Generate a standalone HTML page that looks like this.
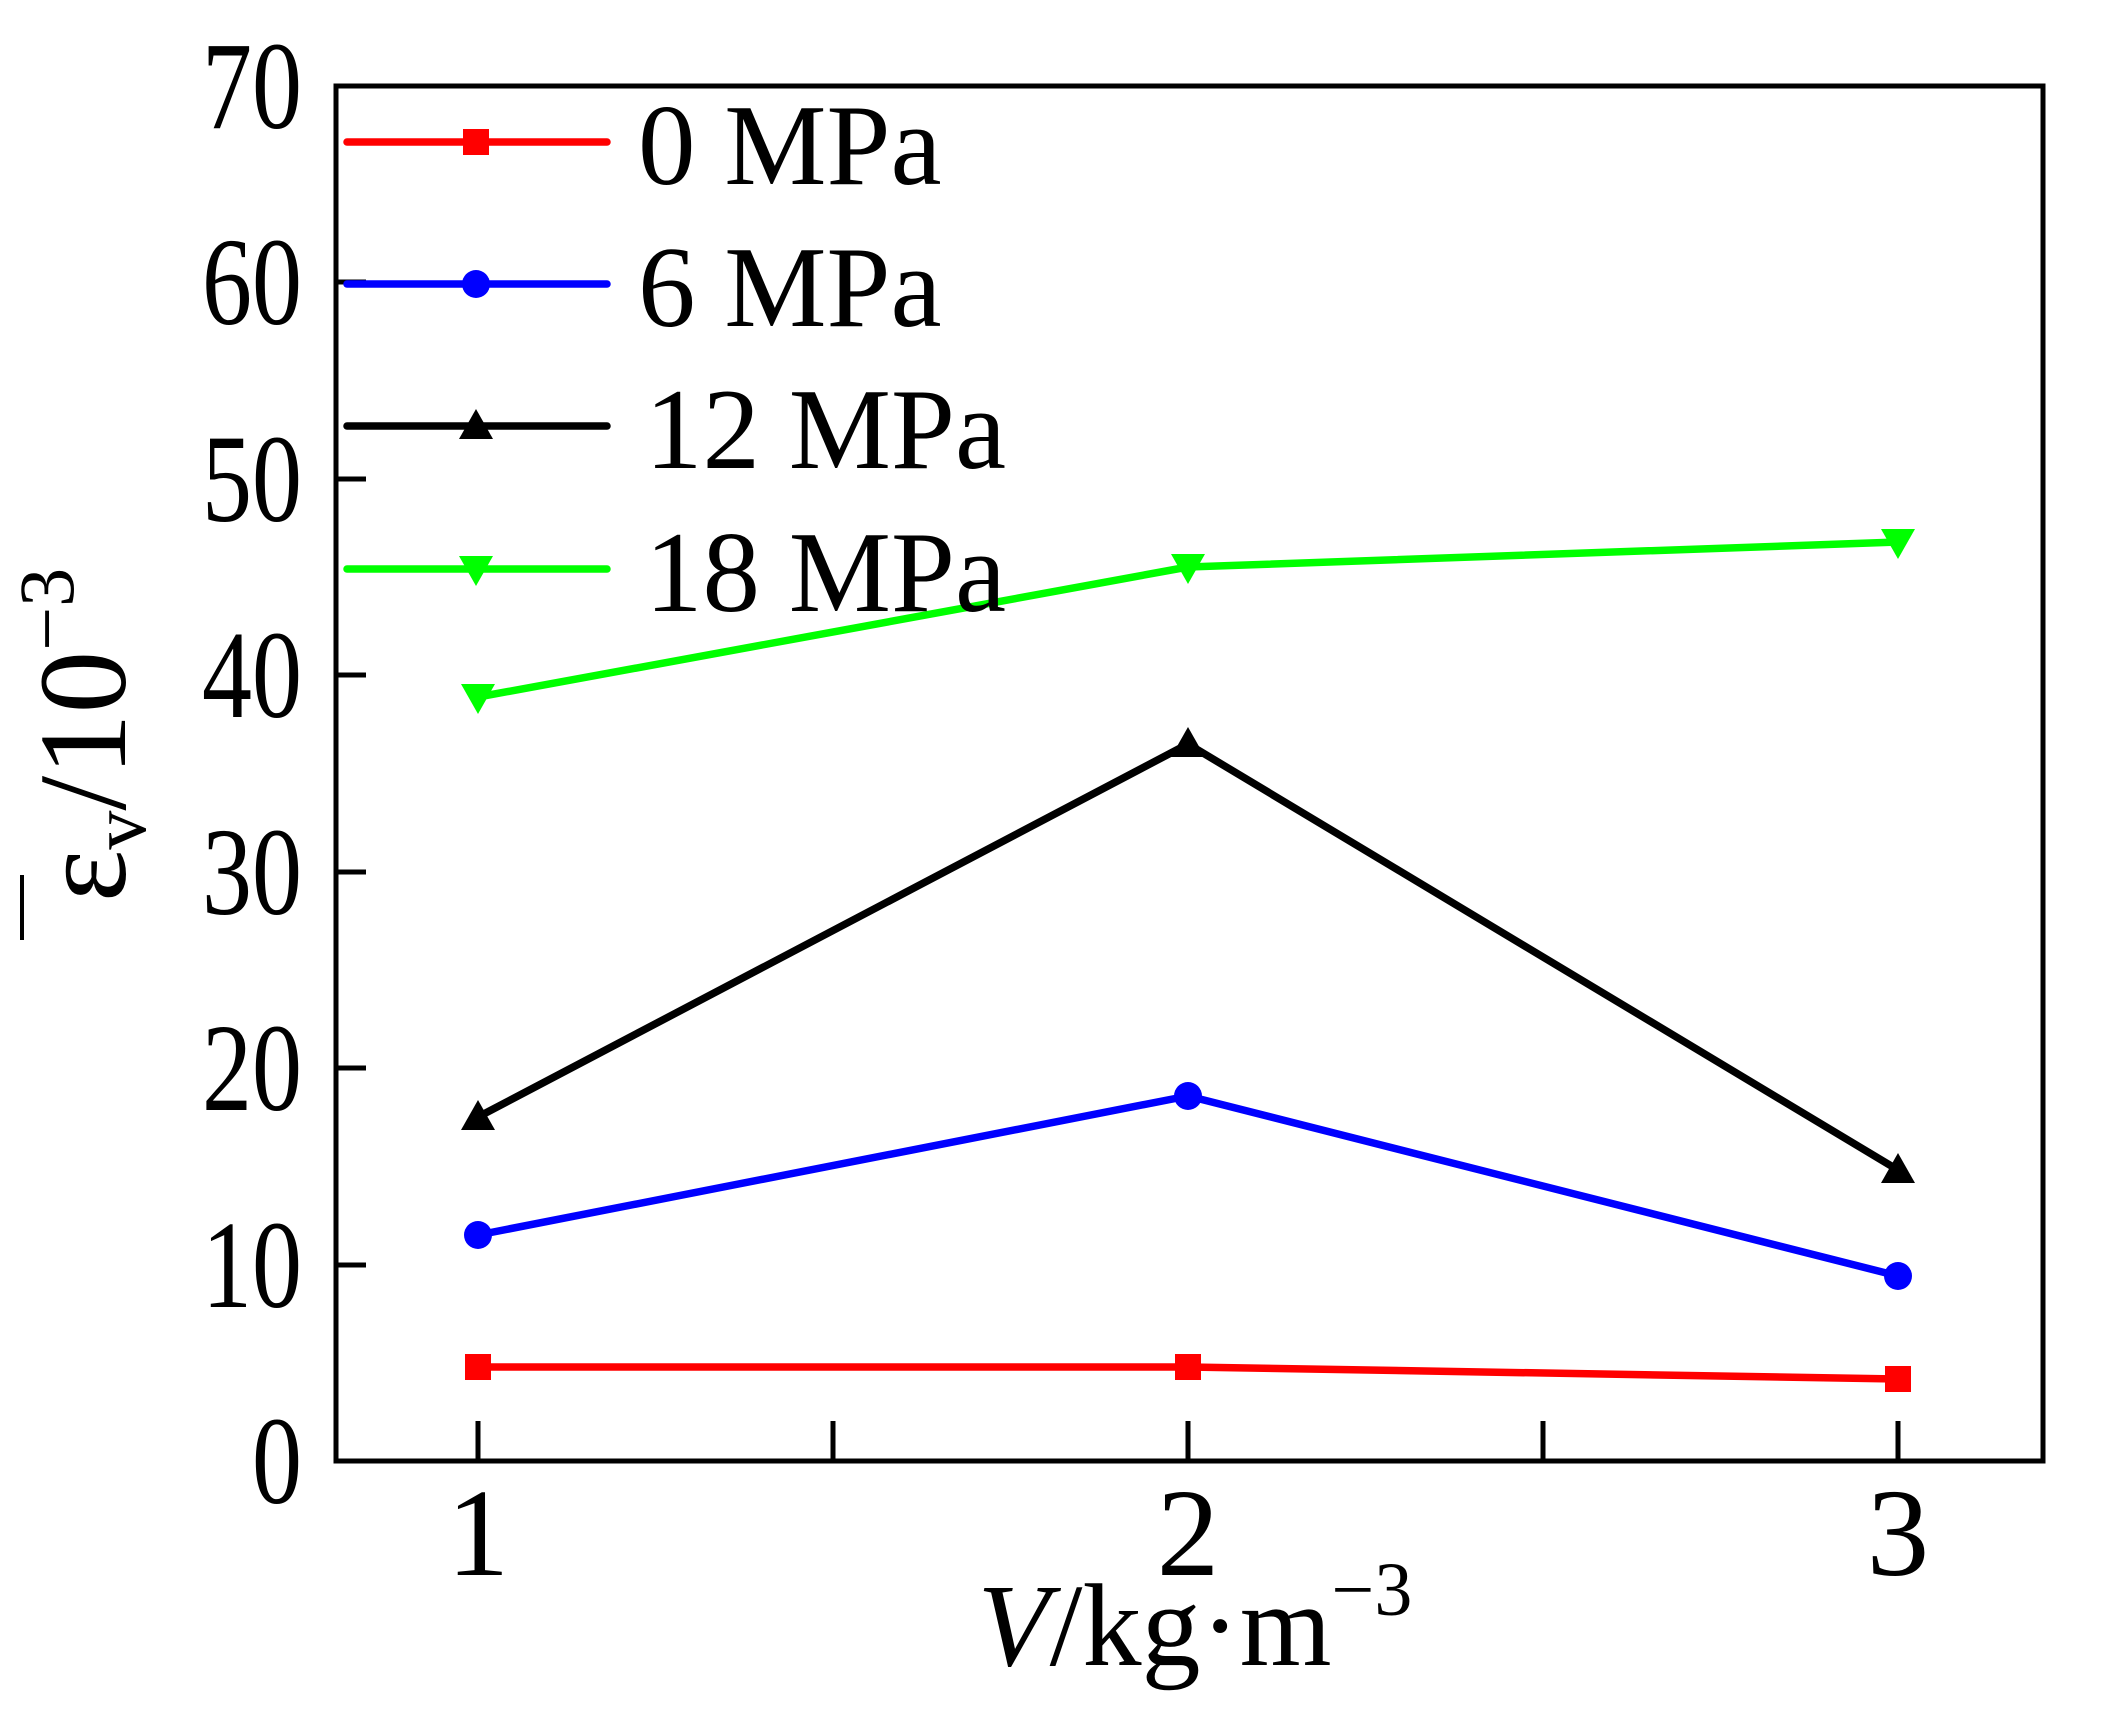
<!DOCTYPE html>
<html><head><style>body{margin:0;background:#fff}</style></head><body>
<svg width="2106" height="1720" viewBox="0 0 2106 1720" xmlns="http://www.w3.org/2000/svg" font-family="Liberation Serif, serif">
<rect width="2106" height="1720" fill="#fff"/>
<g stroke="#000" stroke-width="5" fill="none">
<rect x="336" y="86" width="1707" height="1375"/>
<line x1="336" y1="1265" x2="366" y2="1265"/><line x1="336" y1="1068" x2="366" y2="1068"/>
<line x1="336" y1="872" x2="366" y2="872"/><line x1="336" y1="675" x2="366" y2="675"/>
<line x1="336" y1="479" x2="366" y2="479"/><line x1="336" y1="282" x2="366" y2="282"/>
<line x1="478" y1="1461" x2="478" y2="1421"/><line x1="833" y1="1461" x2="833" y2="1421"/>
<line x1="1188" y1="1461" x2="1188" y2="1421"/><line x1="1543" y1="1461" x2="1543" y2="1421"/>
<line x1="1898" y1="1461" x2="1898" y2="1421"/>
</g>
<g font-size="125" text-anchor="end">
<text x="302" y="1503" textLength="50" lengthAdjust="spacingAndGlyphs">0</text>
<text x="302" y="1307" textLength="100" lengthAdjust="spacingAndGlyphs">10</text>
<text x="302" y="1110" textLength="100" lengthAdjust="spacingAndGlyphs">20</text>
<text x="302" y="914" textLength="100" lengthAdjust="spacingAndGlyphs">30</text>
<text x="302" y="717" textLength="100" lengthAdjust="spacingAndGlyphs">40</text>
<text x="302" y="521" textLength="100" lengthAdjust="spacingAndGlyphs">50</text>
<text x="302" y="324" textLength="100" lengthAdjust="spacingAndGlyphs">60</text>
<text x="302" y="128" textLength="100" lengthAdjust="spacingAndGlyphs">70</text>
</g>
<g font-size="125" text-anchor="middle">
<text x="478" y="1575">1</text><text x="1188" y="1575">2</text><text x="1898" y="1575">3</text>
</g>
<text x="1195" y="1665" font-size="118" text-anchor="middle"><tspan font-style="italic">V</tspan>/kg·m<tspan font-size="76" dy="-50">−3</tspan></text>
<g transform="translate(125,735) rotate(-90)">
<text x="0" y="0" font-size="125" text-anchor="middle">ε<tspan font-size="78" dy="20">v</tspan><tspan dy="-20">/10</tspan><tspan font-size="78" dy="-52">−3</tspan></text>
<line x1="-205" y1="-103" x2="-140" y2="-103" stroke="#000" stroke-width="4"/>
</g>
<g fill="none" stroke-width="7.5" stroke-linejoin="round" stroke-linecap="round">
<polyline stroke="#ff0000" points="478,1367 1188,1367 1898,1379"/>
<polyline stroke="#0000ff" points="478,1235 1188,1096 1898,1276"/>
<polyline stroke="#000" points="478,1117 1188,744 1898,1170"/>
<polyline stroke="#00ff00" points="478,697 1188,567 1898,542"/>
<line x1="347" y1="142" x2="607" y2="142" stroke="#ff0000"/>
<line x1="347" y1="284" x2="607" y2="284" stroke="#0000ff"/>
<line x1="347" y1="426" x2="607" y2="426" stroke="#000"/>
<line x1="347" y1="569" x2="607" y2="569" stroke="#00ff00"/>
</g>
<g fill="#ff0000"><rect x="465" y="1354" width="26" height="26"/><rect x="1175" y="1354" width="26" height="26"/><rect x="1885" y="1366" width="26" height="26"/><rect x="463" y="129" width="26" height="26"/></g>
<g fill="#0000ff"><circle cx="478" cy="1235" r="14"/><circle cx="1188" cy="1096" r="14"/><circle cx="1898" cy="1276" r="14"/><circle cx="476" cy="284" r="14"/></g>
<g fill="#000"><path d="M478 1100 l17 30 h-34z"/><path d="M1188 727 l17 30 h-34z"/><path d="M1898 1153 l17 30 h-34z"/><path d="M476 409 l17 30 h-34z"/></g>
<g fill="#00ff00"><path d="M478 714 l17 -30 h-34z"/><path d="M1188 584 l17 -30 h-34z"/><path d="M1898 559 l17 -30 h-34z"/><path d="M476 586 l17 -30 h-34z"/></g>
<g font-size="115">
<text x="638" y="184">0 MPa</text><text x="638" y="326">6 MPa</text>
<text x="645" y="468">12 MPa</text><text x="645" y="611">18 MPa</text>
</g>
</svg>
</body></html>
